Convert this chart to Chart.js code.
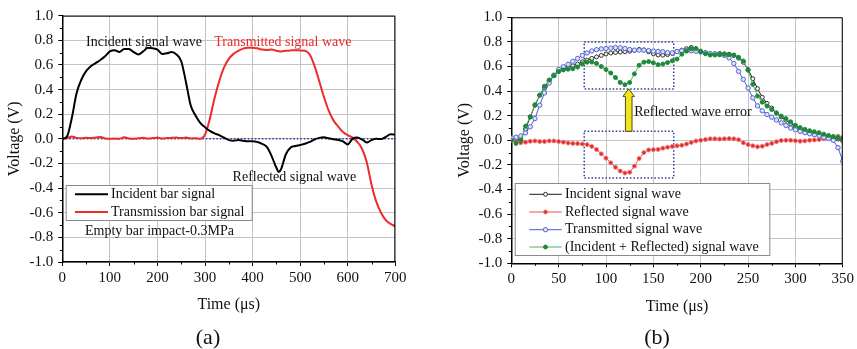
<!DOCTYPE html>
<html lang="en">
<head>
    <meta charset="UTF-8">
    <title>Bar signals</title>
    <script src="https://cdn.jsdelivr.net/npm/chart.js"></script>
    <style>
        html, body { margin: 0; padding: 0; background: #fff; }
        #wrap { position: relative; width: 857px; height: 349px; }
        .panel { position: absolute; top: 0; height: 349px; }
        #panelA { left: 0; width: 430px; }
        #panelB { left: 430px; width: 427px; }
    </style>
</head>
<body>
<div id="wrap">
    <div class="panel" id="panelA"><canvas id="chartA" width="430" height="349"></canvas></div>
    <div class="panel" id="panelB"><canvas id="chartB" width="427" height="349"></canvas></div>
</div>
<script>
    // ---- (a) empty bar impact ----
    const timeA = [0,10,20,30,40,50,60,70,80,90,100,110,120,130,140,150,160,170,180,190,200,210,220,230,240,250,260,270,280,290,300,310,320,330,340,350,360,370,380,390,400,410,420,430,440,450,455,460,470,480,490,500,510,520,530,540,550,560,570,580,590,600,610,620,630,640,650,660,670,680,690,700];
    const incidentA = [0.0,0.02,0.17,0.37,0.48,0.55,0.59,0.615,0.64,0.67,0.71,0.72,0.705,0.73,0.73,0.705,0.685,0.71,0.74,0.735,0.725,0.69,0.695,0.705,0.685,0.63,0.46,0.27,0.19,0.13,0.095,0.065,0.045,0.03,0.01,-0.01,-0.015,-0.01,-0.015,-0.02,-0.02,-0.025,-0.04,-0.065,-0.14,-0.235,-0.27,-0.245,-0.125,-0.07,-0.058,-0.05,-0.04,-0.025,-0.005,0.008,0.012,0.005,-0.003,-0.01,-0.02,-0.045,0.0,0.01,-0.005,-0.03,-0.01,0.0,-0.002,0.015,0.038,0.035];
    const transmissionA = [0.0,0.005,0.02,0.008,0.005,0.008,0.006,0.012,0.015,0.004,0.0,0.002,0.0,0.012,0.003,0.0,0.005,0.008,0.003,0.006,0.01,0.002,0.006,0.008,0.01,0.006,0.01,0.003,0.005,0.0,0.035,0.16,0.33,0.47,0.58,0.65,0.69,0.715,0.733,0.74,0.74,0.735,0.725,0.722,0.726,0.715,0.712,0.71,0.715,0.718,0.72,0.718,0.715,0.685,0.595,0.47,0.34,0.23,0.15,0.1,0.055,0.03,0.01,-0.025,-0.08,-0.19,-0.37,-0.51,-0.6,-0.66,-0.69,-0.71];
    const labelsA = ['Incident bar signal', 'Transmission bar signal'];

    // ---- (b) signal waves ----
    const timeB = [0,5,10,15,20,25,30,35,40,45,50,55,60,65,70,75,80,85,90,95,100,105,110,115,120,125,130,135,140,145,150,155,160,165,170,175,180,185,190,195,200,205,210,215,220,225,230,235,240,245,250,255,260,265,270,275,280,285,290,295,300,305,310,315,320,325,330,335,340,345,350];
    const incidentB = [0.005,0.0,0.01,0.09,0.19,0.285,0.367,0.43,0.485,0.525,0.56,0.58,0.595,0.605,0.62,0.638,0.652,0.666,0.678,0.69,0.702,0.71,0.714,0.717,0.72,0.724,0.73,0.739,0.735,0.72,0.704,0.694,0.692,0.697,0.706,0.722,0.733,0.745,0.755,0.742,0.725,0.712,0.70,0.703,0.706,0.703,0.70,0.69,0.668,0.635,0.575,0.50,0.42,0.35,0.30,0.262,0.222,0.19,0.163,0.136,0.108,0.09,0.077,0.065,0.052,0.043,0.035,0.028,0.02,0.01,-0.005];
    const reflectedB = [0.0,-0.01,-0.02,-0.015,-0.008,-0.005,-0.01,-0.01,-0.005,-0.005,-0.01,-0.015,-0.022,-0.025,-0.027,-0.03,-0.035,-0.05,-0.075,-0.11,-0.145,-0.183,-0.22,-0.25,-0.266,-0.26,-0.21,-0.148,-0.1,-0.078,-0.076,-0.074,-0.064,-0.057,-0.05,-0.045,-0.041,-0.03,-0.018,-0.006,0.0,0.006,0.012,0.012,0.01,0.012,0.014,0.012,0.005,-0.02,-0.035,-0.045,-0.053,-0.048,-0.035,-0.025,-0.012,-0.002,0.0,0.0,-0.003,-0.007,-0.005,0.0,0.002,0.006,0.012,0.022,0.03,0.033,0.025];
    const transmittedB = [0.02,0.025,0.035,0.06,0.11,0.177,0.285,0.385,0.465,0.53,0.575,0.598,0.618,0.642,0.665,0.69,0.71,0.726,0.737,0.743,0.746,0.75,0.754,0.752,0.746,0.738,0.733,0.733,0.733,0.729,0.725,0.722,0.72,0.712,0.71,0.722,0.728,0.73,0.728,0.724,0.718,0.712,0.705,0.702,0.70,0.69,0.67,0.625,0.56,0.495,0.425,0.345,0.28,0.24,0.21,0.188,0.165,0.142,0.12,0.1,0.085,0.072,0.062,0.053,0.045,0.036,0.025,0.015,0.0,-0.06,-0.17];
    const sumB = [0.0,-0.025,0.0,0.115,0.19,0.29,0.367,0.44,0.49,0.525,0.56,0.572,0.578,0.582,0.595,0.622,0.635,0.636,0.625,0.6,0.575,0.547,0.51,0.47,0.452,0.47,0.54,0.61,0.635,0.64,0.63,0.615,0.62,0.632,0.646,0.66,0.7,0.725,0.745,0.747,0.72,0.703,0.693,0.693,0.695,0.70,0.697,0.693,0.675,0.645,0.57,0.455,0.36,0.31,0.278,0.25,0.222,0.197,0.177,0.15,0.122,0.104,0.089,0.078,0.07,0.062,0.05,0.04,0.03,0.022,0.014];
    const labelsB = ['Incident signal wave', 'Reflected signal wave', 'Transmitted signal wave', '(Incident + Reflected) signal wave'];

    const yTicks = {min: -1, max: 1, step: 0.2};

    const SERIF = '"Liberation Serif", "Times New Roman", serif';

    function pairs(xs, ys) {
        return xs.map((t, i) => ({x: t, y: ys[i]}));
    }

    // frame, minor ticks, zero line, boxes, arrow, notes, legend
    const decor = {
        id: 'decor',
        beforeDatasetsDraw(chart, args, o) {
            const {ctx, scales: {x, y}} = chart;
            ctx.save();
            ctx.strokeStyle = '#2a3a9a';
            ctx.lineWidth = 1.5;
            ctx.setLineDash([1.5, 2]);
            if (o.zeroLine) {
                ctx.beginPath();
                ctx.moveTo(x.left, y.getPixelForValue(0));
                ctx.lineTo(x.right, y.getPixelForValue(0));
                ctx.stroke();
            }
            (o.boxes || []).forEach(b => {
                const x0 = x.getPixelForValue(b.t0), x1 = x.getPixelForValue(b.t1);
                const y0 = y.getPixelForValue(b.v0), y1 = y.getPixelForValue(b.v1);
                ctx.strokeRect(x0, y1, x1 - x0, y0 - y1);
            });
            ctx.restore();
        },
        afterDraw(chart, args, o) {
            const {ctx, chartArea: a, scales: {x, y}} = chart;
            ctx.save();
            // top / right frame
            ctx.strokeStyle = '#000';
            ctx.lineWidth = 1;
            ctx.beginPath();
            ctx.moveTo(a.left, a.top + 0.5);
            ctx.lineTo(a.right - 0.5, a.top + 0.5);
            ctx.lineTo(a.right - 0.5, a.bottom);
            ctx.stroke();
            // minor ticks
            ctx.beginPath();
            for (let v = yTicks.min + yTicks.step / 2; v < yTicks.max; v += yTicks.step) {
                const py = Math.round(y.getPixelForValue(v)) + 0.5;
                ctx.moveTo(a.left - 2.5, py);
                ctx.lineTo(a.left, py);
            }
            for (let t = o.xStep / 2; t < x.max; t += o.xStep) {
                const px = Math.round(x.getPixelForValue(t)) + 0.5;
                ctx.moveTo(px, a.bottom);
                ctx.lineTo(px, a.bottom + 2.5);
            }
            ctx.stroke();

            // arrow
            if (o.arrow) {
                const ar = o.arrow;
                const cx = x.getPixelForValue(ar.t);
                const yb = y.getPixelForValue(ar.v0), yt = y.getPixelForValue(ar.v1);
                ctx.beginPath();
                ctx.moveTo(cx - 3.3, yb);
                ctx.lineTo(cx - 3.3, yt + 7.5);
                ctx.lineTo(cx - 5.8, yt + 7.5);
                ctx.lineTo(cx, yt);
                ctx.lineTo(cx + 5.8, yt + 7.5);
                ctx.lineTo(cx + 3.3, yt + 7.5);
                ctx.lineTo(cx + 3.3, yb);
                ctx.closePath();
                ctx.fillStyle = '#f2e51c';
                ctx.fill();
                ctx.strokeStyle = '#4a4a20';
                ctx.lineWidth = 1;
                ctx.stroke();
            }

            // text notes
            ctx.textBaseline = 'middle';
            ctx.textAlign = 'left';
            (o.notes || []).forEach(n => {
                ctx.font = '14px ' + SERIF;
                ctx.fillStyle = n.color || '#111';
                ctx.fillText(n.text, x.getPixelForValue(n.t), y.getPixelForValue(n.v));
            });

            // legend
            const lg = o.legend;
            if (lg) {
                ctx.fillStyle = '#fff';
                ctx.fillRect(lg.x0, lg.y0, lg.x1 - lg.x0, lg.y1 - lg.y0);
                ctx.strokeStyle = '#8a8a8a';
                ctx.lineWidth = 1;
                ctx.strokeRect(lg.x0 + 0.5, lg.y0 + 0.5, lg.x1 - lg.x0, lg.y1 - lg.y0);
                chart.data.datasets.forEach((ds, i) => {
                    const ry = lg.rows[i];
                    ctx.strokeStyle = ds.borderColor;
                    ctx.lineWidth = ds.borderWidth;
                    ctx.beginPath();
                    ctx.moveTo(lg.lx0, ry);
                    ctx.lineTo(lg.lx1, ry);
                    ctx.stroke();
                    if (ds.pointRadius > 0) {
                        ctx.beginPath();
                        ctx.arc((lg.lx0 + lg.lx1) / 2, ry, ds.pointRadius, 0, Math.PI * 2);
                        ctx.fillStyle = ds.pointBackgroundColor;
                        ctx.fill();
                        ctx.strokeStyle = ds.pointBorderColor;
                        ctx.lineWidth = 1;
                        ctx.stroke();
                    }
                    ctx.font = '14px ' + SERIF;
                    ctx.fillStyle = '#111';
                    ctx.fillText(ds.label, lg.tx, ry);
                });
            }

            // panel letter
            ctx.font = '22px ' + SERIF;
            ctx.fillStyle = '#111';
            ctx.textAlign = 'center';
            ctx.fillText(o.letter.text, o.letter.x, o.letter.y);
            ctx.restore();
        }
    };

    function axes(xMax, xStep, yWidth, xHeight) {
        const grid = {
            color: '#c4c4c4',
            lineWidth: 1,
            tickColor: '#000',
            tickLength: 4,
            drawTicks: true
        };
        return {
            x: {
                type: 'linear', min: 0, max: xMax,
                afterFit: s => { s.height = xHeight; },
                ticks: {
                    stepSize: xStep, color: '#111', padding: 3, maxRotation: 0,
                    font: {family: SERIF, size: 15}
                },
                grid: grid,
                border: {color: '#000', width: 1.5},
                title: {
                    display: true, text: 'Time (\u03bcs)', color: '#111',
                    padding: {top: 0, bottom: 0},
                    font: {family: SERIF, size: 16}
                }
            },
            y: {
                min: yTicks.min, max: yTicks.max,
                afterFit: s => { s.width = yWidth; },
                ticks: {
                    stepSize: yTicks.step, color: '#111', padding: 5,
                    font: {family: SERIF, size: 15},
                    callback: v => v.toFixed(1)
                },
                grid: grid,
                border: {color: '#000', width: 1.5},
                title: {
                    display: true, text: 'Voltage (V)', color: '#111',
                    padding: {top: 5, bottom: 0},
                    font: {family: SERIF, size: 16}
                }
            }
        };
    }

    new Chart(document.getElementById('chartA').getContext('2d'), {
        type: 'line',
        data: {
            datasets: [
                {
                    label: labelsA[0], data: pairs(timeA, incidentA),
                    borderColor: '#000', borderWidth: 2, pointRadius: 0,
                    cubicInterpolationMode: 'monotone'
                },
                {
                    label: labelsA[1], data: pairs(timeA, transmissionA),
                    borderColor: '#ee2a2a', borderWidth: 2, pointRadius: 0,
                    cubicInterpolationMode: 'monotone'
                }
            ]
        },
        options: {
            responsive: false,
            animation: false,
            layout: {padding: {left: 0, right: 34.7, top: 15.7, bottom: 34.4}},
            scales: axes(700, 100, 62.3, 52.6),
            plugins: {
                legend: {display: false},
                tooltip: {enabled: false},
                decor: {
                    xStep: 100,
                    zeroLine: true,
                    notes: [
                        {text: 'Incident signal wave', t: 50, v: 0.787},
                        {text: 'Transmitted signal wave', t: 319.5, v: 0.787, color: '#ee2a2a'},
                        {text: 'Reflected signal wave', t: 358, v: -0.31},
                        {text: 'Empty bar impact-0.3MPa', t: 47.7, v: -0.752}
                    ],
                    legend: {x0: 65.7, y0: 185, x1: 251.7, y1: 220, rows: [194.3, 212], lx0: 75, lx1: 108, tx: 111},
                    letter: {text: '(a)', x: 208, y: 338}
                }
            }
        },
        plugins: [decor]
    });

    new Chart(document.getElementById('chartB').getContext('2d'), {
        type: 'line',
        data: {
            datasets: [
                {
                    label: labelsB[0], data: pairs(timeB, incidentB), order: 3,
                    borderColor: '#1a1a1a', borderWidth: 1, tension: 0,
                    pointRadius: 2, pointBackgroundColor: '#f4f4f4', pointBorderColor: '#333', pointBorderWidth: 1
                },
                {
                    label: labelsB[1], data: pairs(timeB, reflectedB), order: 2,
                    borderColor: '#ee4a4a', borderWidth: 1, tension: 0,
                    pointRadius: 2, pointBackgroundColor: '#e02a2a', pointBorderColor: '#f07a7a', pointBorderWidth: 1
                },
                {
                    label: labelsB[2], data: pairs(timeB, transmittedB), order: 1,
                    borderColor: '#4a5cc8', borderWidth: 1, tension: 0,
                    pointRadius: 2.2, pointBackgroundColor: '#dfe2f6', pointBorderColor: '#5566cc', pointBorderWidth: 1
                },
                {
                    label: labelsB[3], data: pairs(timeB, sumB), order: 0,
                    borderColor: '#4fb06c', borderWidth: 1, tension: 0,
                    pointRadius: 2, pointBackgroundColor: '#1d8a3a', pointBorderColor: '#1d8a3a', pointBorderWidth: 1
                }
            ]
        },
        options: {
            responsive: false,
            animation: false,
            layout: {padding: {left: 20, right: 13, top: 17.3, bottom: 32.4}},
            scales: axes(350, 50, 61.3, 53.3),
            plugins: {
                legend: {display: false},
                tooltip: {enabled: false},
                decor: {
                    xStep: 50,
                    boxes: [
                        {t0: 77, t1: 171.5, v0: 0.418, v1: 0.8},
                        {t0: 77, t1: 171.5, v0: -0.307, v1: 0.073}
                    ],
                    arrow: {t: 124, v0: 0.073, v1: 0.418},
                    notes: [
                        {text: 'Reflected wave error', t: 129.8, v: 0.23}
                    ],
                    legend: {x0: 84.7, y0: 183, x1: 339.3, y1: 255, rows: [194.3, 212, 229.7, 247], lx0: 99.3, lx1: 131.7, tx: 135},
                    letter: {text: '(b)', x: 227, y: 338}
                }
            }
        },
        plugins: [decor]
    });
</script>
</body>
</html>
